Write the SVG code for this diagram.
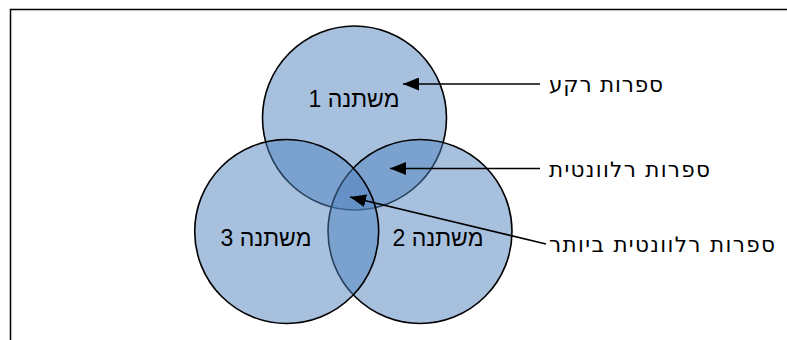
<svg xmlns="http://www.w3.org/2000/svg" width="787" height="340" viewBox="0 0 787 340">
<style>
.frame{fill:none;stroke:#000;stroke-width:1.5}
.set{fill:#4F81BD;fill-opacity:0.5;stroke:#000;stroke-width:1.6}
.inner{font-family:"Liberation Sans",Arial,sans-serif;font-size:23px;fill:#000}
.outer{font-family:"DejaVu Sans","Noto Sans",sans-serif;font-size:21.5px;fill:#000}
.conn{fill:none;stroke:#000;stroke-width:1.5;marker-end:url(#arr)}
</style>
<defs>
<marker id="arr" viewBox="0 0 16 13" refX="16" refY="6.5" markerWidth="16" markerHeight="13" markerUnits="userSpaceOnUse" orient="auto">
<path d="M0,0 L16,6.5 L0,13 z" fill="#000"/>
</marker>
</defs>
<rect width="787" height="340" fill="#fff"/>
<path class="frame" d="M10.5,340 V9.5 H787"/>
<g id="set1">
<circle class="set" cx="354.5" cy="118" r="92"/>
<text class="inner" x="354" y="107" text-anchor="middle">משתנה 1</text>
</g>
<g id="set2">
<circle class="set" cx="420" cy="231.5" r="92"/>
<text class="inner" x="438" y="246" text-anchor="middle">משתנה 2</text>
</g>
<g id="set3">
<circle class="set" cx="286.7" cy="231.5" r="92"/>
<text class="inner" x="266" y="246" text-anchor="middle">משתנה 3</text>
</g>
<g id="connectors">
<line class="conn" x1="540" y1="84" x2="403" y2="84"/>
<line class="conn" x1="540" y1="168.5" x2="390" y2="168.5"/>
<line class="conn" x1="546" y1="244" x2="350" y2="197"/>
</g>
<g id="label-background">
<text class="outer" x="549" y="92" textLength="114">ספרות רקע</text>
</g>
<g id="label-relevant">
<text class="outer" x="549" y="177" textLength="161">ספרות רלוונטית</text>
</g>
<g id="label-most-relevant">
<text class="outer" x="549" y="252" textLength="226">ספרות רלוונטית ביותר</text>
</g>
</svg>
